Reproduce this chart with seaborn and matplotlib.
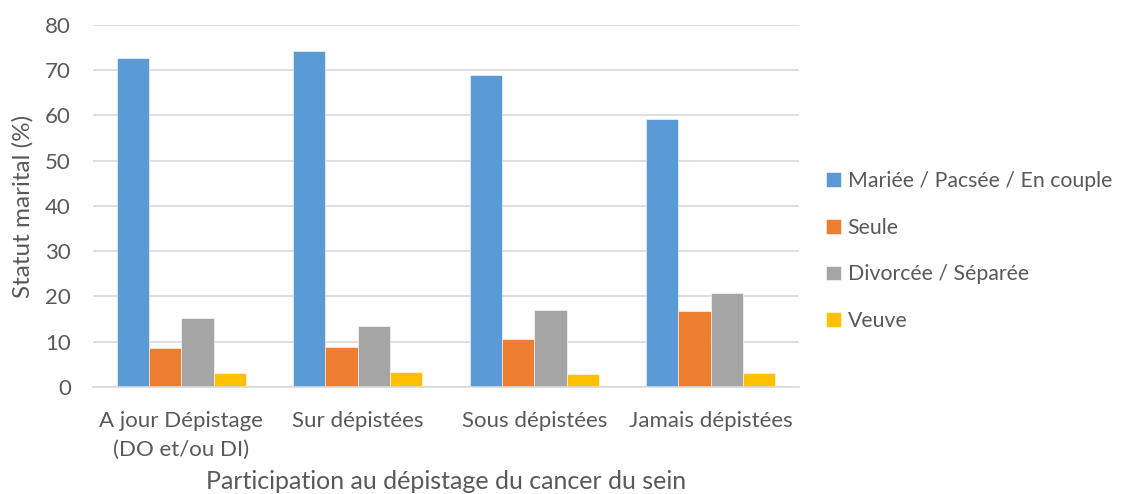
import matplotlib
matplotlib.use("Agg")
import matplotlib.pyplot as plt
import seaborn as sns
import pandas as pd

categories = ["A jour Dépistage\n(DO et/ou DI)", "Sur dépistées", "Sous dépistées", "Jamais dépistées"]
series_names = ["Mariée / Pacsée / En couple", "Seule", "Divorcée / Séparée", "Veuve"]
mariee = [72.6, 74.3, 69.0, 59.1]
seule = [8.7, 8.8, 10.6, 16.9]
divorcee = [15.3, 13.4, 17.1, 20.7]
veuve = [3.2, 3.4, 2.8, 3.2]
y_ticks = [0, 10, 20, 30, 40, 50, 60, 70, 80]

colors = ["#5B9BD5", "#ED7D31", "#A5A5A5", "#FFC000"]
text_color = "#595959"

rows = []
for name, vals in zip(series_names, [mariee, seule, divorcee, veuve]):
    for cat, v in zip(categories, vals):
        rows.append({"Participation": cat, "Statut": name, "Valeur": v})
df = pd.DataFrame(rows)

sns.set_theme(style="white")
plt.rcParams["font.family"] = ["Lato", "DejaVu Sans"]

fig = plt.figure(figsize=(11.22, 4.94), dpi=100)
ax = fig.add_axes([0.083, 0.2166, 0.629, 0.733])

sns.barplot(data=df, x="Participation", y="Valeur", hue="Statut",
            order=categories, hue_order=series_names, palette=colors,
            saturation=1, width=0.733, gap=0, edgecolor="white", linewidth=0.4,
            errorbar=None, ax=ax)

ax.set_ylim(0, 80)
ax.set_yticks(y_ticks)
ax.set_xlim(-0.5, 3.5)
ax.yaxis.grid(True, color="#D9D9D9", linewidth=1.2)
ax.set_axisbelow(True)
for side in ["top", "right", "left"]:
    ax.spines[side].set_visible(False)
ax.spines["bottom"].set_color("#D9D9D9")
ax.spines["bottom"].set_linewidth(1.2)
ax.tick_params(axis="both", length=0, colors=text_color, labelsize=16)
ax.tick_params(axis="y", pad=16)
ax.tick_params(axis="x", pad=17)
for lbl in ax.get_xticklabels():
    lbl.set_linespacing(1.6)

ax.set_ylabel("Statut marital (%)", fontsize=17.5, color=text_color, va="center")
ax.yaxis.set_label_coords(-0.099, 0.5)
ax.set_xlabel("Participation au dépistage du cancer du sein", fontsize=18, color=text_color, va="center")
ax.xaxis.set_label_coords(0.5, -0.262)

handles, labels = ax.get_legend_handles_labels()
ax.legend(handles, labels, loc="center left", bbox_to_anchor=(1.027, 0.375),
          frameon=False, fontsize=15.3, labelcolor=text_color,
          handlelength=0.7, handleheight=0.7, handletextpad=0.3,
          labelspacing=1.25, borderaxespad=0)

fig.savefig("out.png", dpi=100)
